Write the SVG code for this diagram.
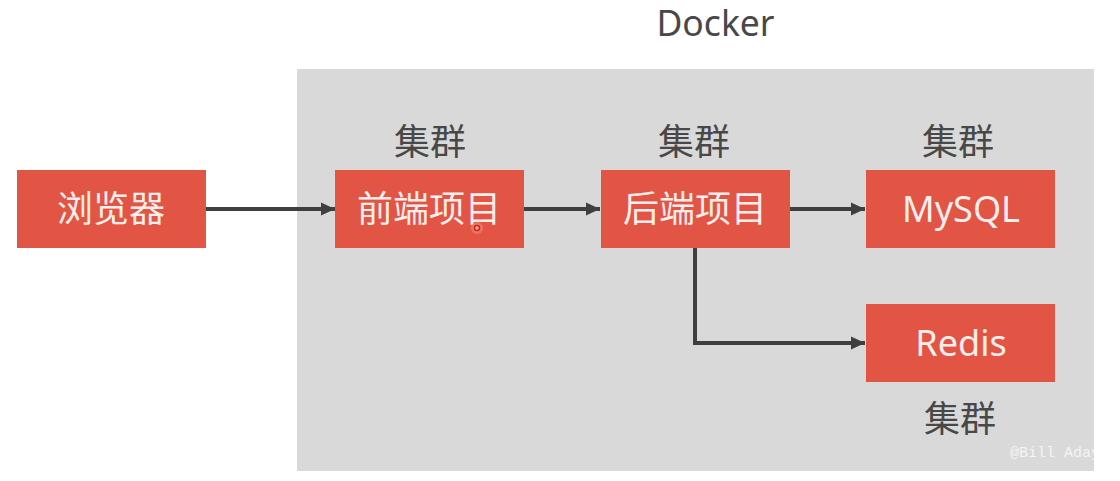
<svg xmlns="http://www.w3.org/2000/svg" width="1120" height="481" viewBox="0 0 1120 481">
<style>
.n{fill:#e25544}
.w{font-family:"Noto Sans CJK SC","Noto Sans",sans-serif;font-size:36px;fill:#fbeeec;text-anchor:middle}
.l{font-family:"Noto Sans",sans-serif;font-size:36px;fill:#fbeeec;text-anchor:middle}
.d{font-family:"Noto Sans CJK SC","Noto Sans",sans-serif;font-size:36px;fill:#484848;text-anchor:middle}
.c{fill:none;stroke:#3f3f3f;stroke-width:4}
</style>
<defs><marker id="a" markerUnits="userSpaceOnUse" markerWidth="14" markerHeight="14" refX="14" refY="7" orient="auto"><path d="M0 0.5L14 7L0 13.5z" fill="#3f3f3f"/></marker></defs>
<rect width="1120" height="481" fill="#fff"/>
<rect x="297" y="69" width="797" height="402" fill="#d9d9d9"/>
<text x="715.5" y="36" font-family="'Noto Sans',sans-serif" font-size="35.5" fill="#484848" text-anchor="middle">Docker</text>
<text class="d" x="430" y="155">集群</text>
<text class="d" x="694" y="155">集群</text>
<text class="d" x="958" y="155">集群</text>
<text class="d" x="960" y="432">集群</text>
<g id="connectors">
<path class="c" marker-end="url(#a)" d="M206 209H335"/>
<path class="c" marker-end="url(#a)" d="M524 209H600"/>
<path class="c" marker-end="url(#a)" d="M790 209H865"/>
<path class="c" marker-end="url(#a)" d="M695 247V343H865"/>
</g>
<g id="browser"><rect class="n" x="17" y="170" width="189" height="78"/><text class="w" x="111" y="222">浏览器</text></g>
<g id="frontend"><rect class="n" x="335" y="170" width="189" height="78"/><text class="w" x="429" y="222">前端项目</text></g>
<g id="backend"><rect class="n" x="601" y="170" width="189" height="78"/><text class="w" x="695" y="222">后端项目</text></g>
<g id="mysql"><rect class="n" x="866" y="170" width="189" height="78"/><text class="l" x="961" y="222" textLength="118" lengthAdjust="spacingAndGlyphs">MySQL</text></g>
<g id="redis"><rect class="n" x="866" y="304" width="189" height="78"/><text class="l" x="961" y="356">Redis</text></g>
<circle cx="477" cy="228" r="6" fill="#f08070" opacity="0.7"/>
<circle cx="477" cy="228" r="2.5" fill="#f4b0a0" stroke="#d02818" stroke-width="1.5"/>
<text x="1010" y="457" font-family="'Liberation Mono',monospace" font-size="15" fill="#f4f4f4">@Bill Aday</text>
<rect x="1094" y="440" width="26" height="30" fill="#fff"/>
</svg>
